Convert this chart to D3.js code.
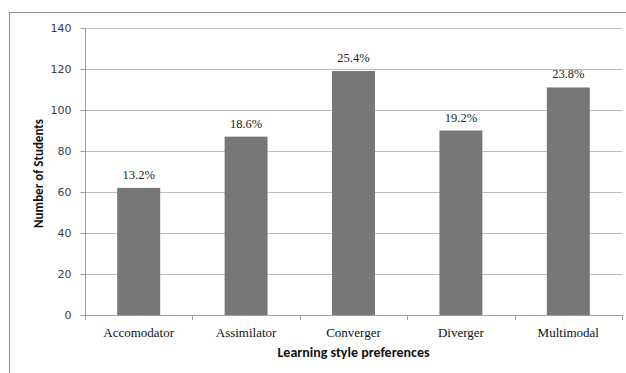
<!DOCTYPE html>
<html>
<head>
<meta charset="utf-8">
<script src="https://cdn.jsdelivr.net/npm/d3@7"></script>
<style>
  body { margin: 0; background: #fff; }
  svg { display: block; }
</style>
</head>
<body>
<svg id="chart" width="626" height="373"></svg>
<script>
// Data
const categories = ["Accomodator", "Assimilator", "Converger", "Diverger", "Multimodal"];
const students = [62, 87, 119, 90, 111];
const percentLabels = ["13.2%", "18.6%", "25.4%", "19.2%", "23.8%"];
const yTicks = [0, 20, 40, 60, 80, 100, 120, 140];

const margin = { top: 28, right: 4, bottom: 58, left: 85 };
const width = 626, height = 373;

let svg = d3.select("#chart");

// Outer chart border
svg.append("rect")
  .attr("x", 9.5)
  .attr("y", 12.5)
  .attr("width", 640)
  .attr("height", 400)
  .attr("fill", "none")
  .attr("stroke", "#8c8c8c");

// Scales
const x = d3.scaleBand()
  .domain(categories)
  .range([margin.left, width - margin.right])
  .paddingInner(0.6)
  .paddingOuter(0.3);

const y = d3.scaleLinear()
  .domain([0, 140])
  .range([height - margin.bottom, margin.top]);

// Gridlines
svg.append("g")
  .selectAll("line")
  .data(yTicks.filter((d) => d > 0))
  .enter()
  .append("line")
  .attr("x1", margin.left)
  .attr("x2", width - margin.right)
  .attr("y1", (d) => Math.round(y(d)) + 0.5)
  .attr("y2", (d) => Math.round(y(d)) + 0.5)
  .attr("stroke", "#bdbdbd");

// Y axis
let yAxis = svg.append("g")
  .attr("transform", "translate(" + (margin.left + 0.5) + ",0.5)")
  .call(d3.axisLeft(y).tickValues(yTicks).tickSize(5).tickPadding(9));
yAxis.select(".domain").attr("stroke", "#a0a0a0").attr("d", "M0," + Math.round(y(0)) + "V" + Math.round(y(140)));
yAxis.selectAll(".tick line").attr("stroke", "#a0a0a0");
yAxis.selectAll(".tick").attr("transform", (d) => "translate(0," + Math.round(y(d)) + ")");
yAxis.selectAll("text")
  .attr("font-family", "Verdana, 'DejaVu Sans', sans-serif")
  .attr("font-size", "11px")
  .attr("fill", "#404040");

// Bars
svg.append("g")
  .selectAll("rect")
  .data(students)
  .enter()
  .append("rect")
  .attr("x", (d, i) => x(categories[i]))
  .attr("y", (d) => y(d))
  .attr("width", x.bandwidth())
  .attr("height", (d) => y(0) - y(d))
  .attr("fill", "#777777");

// Bar value labels
svg.append("g")
  .selectAll("text")
  .data(students)
  .enter()
  .append("text")
  .attr("x", (d, i) => x(categories[i]) + x.bandwidth() / 2)
  .attr("y", (d) => y(d) - 9)
  .attr("text-anchor", "middle")
  .attr("font-family", "'Liberation Serif', 'Times New Roman', serif")
  .attr("font-size", "12.5px")
  .attr("fill", "#222")
  .text((d, i) => percentLabels[i]);

// X axis with ticks at category boundaries
const step = (width - margin.right - margin.left) / categories.length;
let xAxis = svg.append("g");
xAxis.append("line")
  .attr("x1", margin.left)
  .attr("x2", width - margin.right)
  .attr("y1", Math.round(y(0)) + 0.5)
  .attr("y2", Math.round(y(0)) + 0.5)
  .attr("stroke", "#a0a0a0");
xAxis.selectAll(".xtick")
  .data(d3.range(categories.length + 1))
  .enter()
  .append("line")
  .attr("class", "xtick")
  .attr("x1", (i) => Math.round(margin.left + i * step) + 0.5)
  .attr("x2", (i) => Math.round(margin.left + i * step) + 0.5)
  .attr("y1", Math.round(y(0)))
  .attr("y2", Math.round(y(0)) + 5)
  .attr("stroke", "#a0a0a0");
xAxis.selectAll(".xlabel")
  .data(categories)
  .enter()
  .append("text")
  .attr("class", "xlabel")
  .attr("x", (d) => x(d) + x.bandwidth() / 2)
  .attr("y", y(0) + 22)
  .attr("text-anchor", "middle")
  .attr("font-family", "'Liberation Serif', 'Times New Roman', serif")
  .attr("font-size", "13px")
  .attr("fill", "#111")
  .text((d) => d);

// Axis titles
svg.append("text")
  .attr("x", (margin.left + width - margin.right) / 2)
  .attr("y", 357)
  .attr("text-anchor", "middle")
  .attr("font-family", "Calibri, Carlito, 'Open Sans', sans-serif")
  .attr("font-size", "14px")
  .attr("font-weight", "bold")
  .attr("fill", "#111")
  .text("Learning style preferences");

svg.append("text")
  .attr("transform", "translate(43," + ((y(0) + y(140)) / 2 + 2) + ") rotate(-90)")
  .attr("text-anchor", "middle")
  .attr("font-family", "Calibri, Carlito, 'Open Sans', sans-serif")
  .attr("font-size", "13px")
  .attr("font-weight", "bold")
  .attr("fill", "#111")
  .text("Number of Students");
</script>
</body>
</html>
